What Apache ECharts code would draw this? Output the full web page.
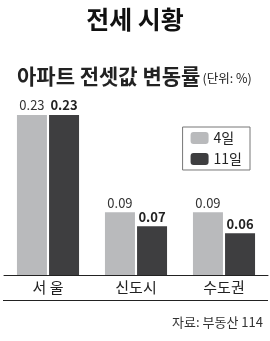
<!DOCTYPE html>
<html><head><meta charset="utf-8">
<script src="https://cdn.jsdelivr.net/npm/echarts@6/dist/echarts.min.js"></script>
<style>html,body{margin:0;padding:0;background:#fff}#c{width:270px;height:341px}</style>
</head><body><div id="c"></div>
<script>
const categories = ['서 울', '신도시', '수도권'];
const seriesNames = ['4일', '11일'];
const values4 = [0.23, 0.09, 0.09];
const values11 = [0.23, 0.07, 0.06];
const fontF = '"Noto Sans CJK KR", "Noto Sans", sans-serif';
const chart = echarts.init(document.getElementById('c'), null, {renderer: 'canvas'});
chart.setOption({
  animation: false,
  backgroundColor: '#fff',
  textStyle: {fontFamily: fontF},
  title: [
    {text: '전세 시황', left: 'center', top: 2, textStyle: {fontSize: 25, fontWeight: 'bold', color: '#111', fontFamily: fontF}},
    {text: '아파트 전셋값 변동률{u|(단위: %)}', left: 12, top: 61,
     textStyle: {fontSize: 21, fontWeight: 'bold', color: '#222', fontFamily: fontF,
       rich: {u: {fontSize: 12.5, fontWeight: 'normal', color: '#222', fontFamily: fontF, padding: [3, 0, 0, 2]}}}},
    {text: '자료: 부동산 114', right: 2, top: 311, textStyle: {fontSize: 13, fontWeight: 'normal', color: '#333', fontFamily: fontF}}
  ],
  legend: {
    right: 20, top: 127, orient: 'vertical', itemWidth: 18, itemHeight: 12, itemGap: 7,
    padding: [4, 8, 4, 8], borderColor: '#777', borderWidth: 1, borderRadius: 0,
    textStyle: {fontSize: 14, color: '#222', fontFamily: fontF},
    data: seriesNames
  },
  grid: {left: 4, right: 2, top: 101, bottom: 66},
  xAxis: {
    type: 'category', data: categories,
    axisLine: {lineStyle: {color: '#222', width: 1}},
    axisTick: {show: false},
    axisLabel: {fontSize: 15, color: '#222', margin: 5, fontFamily: fontF}
  },
  yAxis: {type: 'value', min: 0, max: 0.25, show: false, splitLine: {show: false}},
  series: [
    {name: seriesNames[0], type: 'bar', data: values4, barWidth: 30, barGap: '7%',
     itemStyle: {color: '#b9babc'},
     label: {show: true, position: 'top', distance: 3, fontSize: 13, color: '#333', fontFamily: fontF, formatter: p => p.value.toFixed(2)}},
    {name: seriesNames[1], type: 'bar', data: values11, barWidth: 30,
     itemStyle: {color: '#3e3e40'},
     label: {show: true, position: 'top', distance: 3, fontSize: 13, fontWeight: 'bold', color: '#222', fontFamily: fontF, formatter: p => p.value.toFixed(2)}}
  ],
  graphic: [
    {type: 'line', shape: {x1: 3, y1: 300.5, x2: 268, y2: 300.5}, style: {stroke: '#222', lineWidth: 1}}
  ]
});
</script></body></html>
